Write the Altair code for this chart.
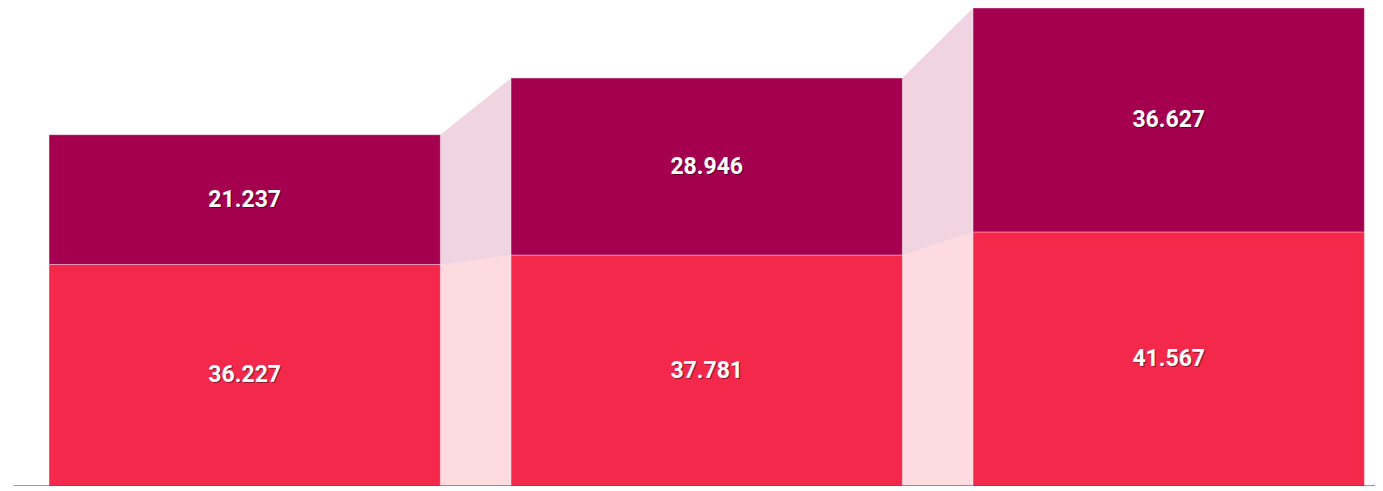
import altair as alt
import pandas as pd

# ---- data ----
groups = [0, 1, 2]
series = ["lower", "upper"]
lower_vals = [36.227, 37.781, 41.567]
upper_vals = [21.237, 28.946, 36.627]
colors = ["#f4284a", "#a5004f"]

BAR_W = 0.847  # bar width in step units (style)

# bars table
rows = []
for i, g in enumerate(groups):
    lo, up = lower_vals[i], upper_vals[i]
    rows.append({"g": g, "series": "lower", "y0": 0.0, "y1": lo, "val": lo})
    rows.append({"g": g, "series": "upper", "y0": lo, "y1": lo + up, "val": up})
bars = pd.DataFrame(rows)

# connector table
crow = []
for i in range(len(groups) - 1):
    for s in series:
        a = bars[(bars.g == groups[i]) & (bars.series == s)].iloc[0]
        b = bars[(bars.g == groups[i + 1]) & (bars.series == s)].iloc[0]
        crow.append({"pair": f"{i}-{s}", "series": s, "g": int(groups[i]), "side": 1,
                     "y0": float(a.y0), "y1": float(a.y1)})
        crow.append({"pair": f"{i}-{s}", "series": s, "g": int(groups[i + 1]), "side": 0,
                     "y0": float(b.y0), "y1": float(b.y1)})
conn = pd.DataFrame(crow)

xscale = alt.Scale(domain=[-0.078, 2.87], nice=False, zero=False)
yscale = alt.Scale(domain=[0, 78.194], nice=False, zero=True)
cscale = alt.Scale(domain=series, range=colors)

xaxis = alt.Axis(labels=False, ticks=False, grid=False, title=None, domain=True,
                 zindex=1, domainColor="#3c3c3c", domainWidth=2)

conn_layer = alt.Chart(conn).transform_calculate(
    xp=f"datum.g + datum.side * {BAR_W}"
).mark_area(opacity=0.17, orient="vertical").encode(
    x=alt.X("xp:Q", scale=xscale, axis=xaxis),
    y=alt.Y("y0:Q", scale=yscale, axis=None, stack=None),
    y2="y1:Q",
    color=alt.Color("series:N", scale=cscale, legend=None),
    detail="pair:N",
)

bar_layer = alt.Chart(bars).transform_calculate(
    xs="datum.g", xe=f"datum.g + {BAR_W}"
).mark_bar(stroke="white", strokeWidth=1, strokeOpacity=0.35).encode(
    x=alt.X("xs:Q", scale=xscale, axis=xaxis),
    x2="xe:Q",
    y=alt.Y("y0:Q", scale=yscale, axis=None),
    y2="y1:Q",
    color=alt.Color("series:N", scale=cscale, legend=None),
)

txt_base = alt.Chart(bars).transform_calculate(
    xm=f"datum.g + {BAR_W / 2}", ym="(datum.y0 + datum.y1) / 2",
    lab="format(datum.val, '.3f')"
)

shadow = txt_base.mark_text(font="Roboto", fontSize=23, fontWeight="bold",
                            color="black", opacity=0.4, dx=1, dy=1).encode(
    x=alt.X("xm:Q", scale=xscale, axis=xaxis),
    y=alt.Y("ym:Q", scale=yscale, axis=None),
    text="lab:N",
)
labels = txt_base.mark_text(font="Roboto", fontSize=23, fontWeight="bold",
                            color="white").encode(
    x=alt.X("xm:Q", scale=xscale, axis=xaxis),
    y=alt.Y("ym:Q", scale=yscale, axis=None),
    text="lab:N",
)

chart = alt.layer(conn_layer, bar_layer, shadow, labels).properties(
    width=1362, height=478,
    autosize=alt.AutoSizeParams(type="none"),
    padding={"left": 5, "top": 0, "right": 0, "bottom": 0},
).configure_view(stroke=None)

chart.save("out.html", embed_options={"renderer": "svg", "actions": False})
